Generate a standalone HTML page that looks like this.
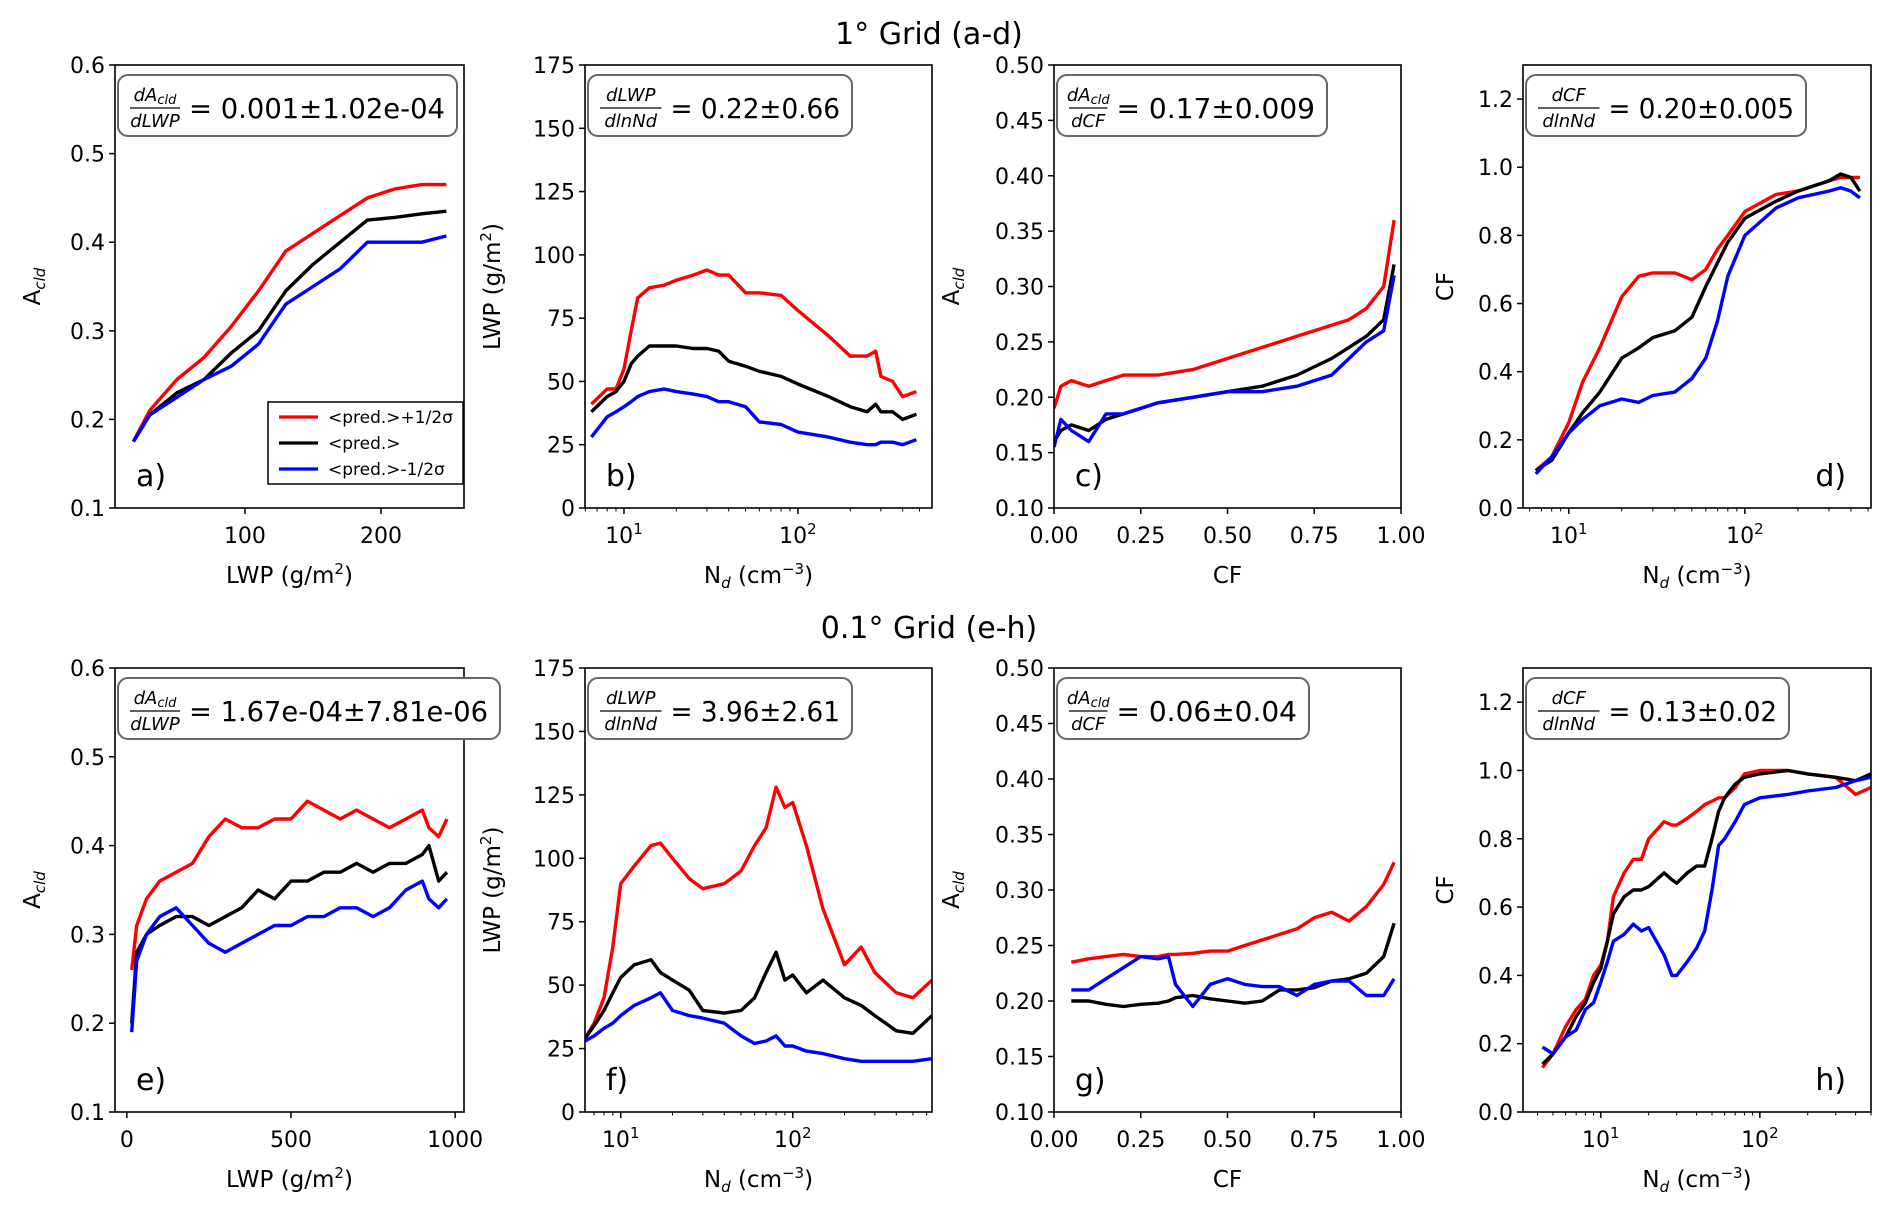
<!DOCTYPE html>
<html><head><meta charset="utf-8"><style>
html,body{margin:0;padding:0;background:#fff}
svg{display:block;font-family:"DejaVu Sans","Liberation Sans",sans-serif}
</style></head><body>
<svg id="fig" width="1892" height="1213" viewBox="0 0 1892 1213" xmlns="http://www.w3.org/2000/svg">
<text x="929" y="44" font-size="30" text-anchor="middle">1° Grid (a-d)</text>
<text x="929" y="638" font-size="30" text-anchor="middle">0.1° Grid (e-h)</text>
</svg>
<script>
// ---- data ----
const aX=[18,30,50,70,90,110,130,150,170,190,210,230,248];
const aRed=[0.175,0.21,0.245,0.27,0.305,0.345,0.39,0.41,0.43,0.45,0.46,0.465,0.465];
const aBlack=[0.175,0.205,0.23,0.245,0.275,0.3,0.345,0.375,0.40,0.425,0.428,0.432,0.435];
const aBlue=[0.175,0.205,0.225,0.245,0.26,0.285,0.33,0.35,0.37,0.40,0.40,0.40,0.407];
const bX=[6.5,8,9,10,11,12,14,17,20,25,30,35,40,50,60,80,100,150,200,250,280,300,350,400,480];
const bRed=[41,47,47,55,70,83,87,88,90,92,94,92,92,85,85,84,78,68,60,60,62,52,50,44,46];
const bBlack=[38,44,46,50,57,60,64,64,64,63,63,62,58,56,54,52,49,44,40,38,41,38,38,35,37];
const bBlue=[28,36,38,40,42,44,46,47,46,45,44,42,42,40,34,33,30,28,26,25,25,26,26,25,27];
const cX=[0,0.02,0.05,0.1,0.15,0.2,0.3,0.4,0.5,0.6,0.7,0.8,0.85,0.9,0.95,0.98];
const cRed=[0.19,0.21,0.215,0.21,0.215,0.22,0.22,0.225,0.235,0.245,0.255,0.265,0.27,0.28,0.30,0.36];
const cBlack=[0.16,0.17,0.175,0.17,0.18,0.185,0.195,0.2,0.205,0.21,0.22,0.235,0.245,0.255,0.27,0.32];
const cBlue=[0.155,0.18,0.17,0.16,0.185,0.185,0.195,0.2,0.205,0.205,0.21,0.22,0.235,0.25,0.26,0.31];
const dX=[6.5,8,10,12,15,20,25,30,40,50,60,70,80,100,150,200,300,350,400,450];
const dRed=[0.11,0.15,0.25,0.37,0.47,0.62,0.68,0.69,0.69,0.67,0.70,0.76,0.80,0.87,0.92,0.93,0.96,0.97,0.97,0.97];
const dBlack=[0.11,0.14,0.22,0.28,0.34,0.44,0.47,0.50,0.52,0.56,0.65,0.72,0.78,0.85,0.90,0.93,0.96,0.98,0.97,0.93];
const dBlue=[0.10,0.15,0.22,0.26,0.30,0.32,0.31,0.33,0.34,0.38,0.44,0.55,0.68,0.80,0.88,0.91,0.93,0.94,0.93,0.91];
const eX=[15,30,60,100,150,200,250,300,350,400,450,500,550,600,650,700,750,800,850,900,920,950,975];
const eRed=[0.26,0.31,0.34,0.36,0.37,0.38,0.41,0.43,0.42,0.42,0.43,0.43,0.45,0.44,0.43,0.44,0.43,0.42,0.43,0.44,0.42,0.41,0.43];
const eBlack=[0.20,0.28,0.30,0.31,0.32,0.32,0.31,0.32,0.33,0.35,0.34,0.36,0.36,0.37,0.37,0.38,0.37,0.38,0.38,0.39,0.40,0.36,0.37];
const eBlue=[0.19,0.27,0.30,0.32,0.33,0.31,0.29,0.28,0.29,0.30,0.31,0.31,0.32,0.32,0.33,0.33,0.32,0.33,0.35,0.36,0.34,0.33,0.34];
const fX=[6.2,7,8,9,10,12,15,17,20,25,30,40,50,60,70,80,90,100,120,150,200,250,300,400,500,645];
const fRed=[29,35,45,65,90,97,105,106,100,92,88,90,95,105,112,128,120,122,105,80,58,65,55,47,45,52];
const fBlack=[29,34,40,47,53,58,60,55,52,48,40,39,40,45,55,63,52,54,47,52,45,42,38,32,31,38];
const fBlue=[28,30,33,35,38,42,45,47,40,38,37,35,30,27,28,30,26,26,24,23,21,20,20,20,20,21];
const gX=[0.05,0.1,0.15,0.2,0.25,0.3,0.33,0.35,0.4,0.45,0.5,0.55,0.6,0.65,0.7,0.75,0.8,0.85,0.9,0.95,0.98];
const gRed=[0.235,0.238,0.24,0.242,0.24,0.24,0.242,0.242,0.243,0.245,0.245,0.25,0.255,0.26,0.265,0.275,0.28,0.272,0.285,0.305,0.325];
const gBlack=[0.2,0.2,0.197,0.195,0.197,0.198,0.2,0.203,0.205,0.202,0.2,0.198,0.2,0.21,0.21,0.212,0.218,0.22,0.225,0.24,0.27];
const gBlue=[0.21,0.21,0.22,0.23,0.24,0.238,0.24,0.215,0.195,0.215,0.22,0.215,0.213,0.213,0.205,0.215,0.218,0.218,0.205,0.205,0.22];
const hX=[4.3,5,6,7,8,9,10,11,12,14,16,18,20,25,28,30,35,40,45,50,55,60,70,80,100,150,200,300,400,500];
const hRed=[0.13,0.17,0.25,0.3,0.33,0.40,0.43,0.50,0.63,0.70,0.74,0.74,0.80,0.85,0.84,0.84,0.86,0.88,0.90,0.91,0.92,0.92,0.95,0.99,1.0,1.0,0.99,0.98,0.93,0.95];
const hBlack=[0.14,0.17,0.22,0.28,0.32,0.38,0.42,0.50,0.58,0.63,0.65,0.65,0.66,0.70,0.68,0.67,0.70,0.72,0.72,0.80,0.88,0.92,0.96,0.98,0.99,1.0,0.99,0.98,0.97,0.99];
const hBlue=[0.19,0.17,0.22,0.24,0.30,0.32,0.38,0.44,0.50,0.52,0.55,0.53,0.54,0.46,0.40,0.40,0.44,0.48,0.53,0.65,0.78,0.80,0.85,0.90,0.92,0.93,0.94,0.95,0.97,0.98];
const aclTicks=[0.1,0.2,0.3,0.4,0.5,0.6];
const lwpTicks=[0,25,50,75,100,125,150,175];
const acl2Ticks=[0.10,0.15,0.20,0.25,0.30,0.35,0.40,0.45,0.50];
const cfTicks=[0.0,0.2,0.4,0.6,0.8,1.0,1.2];
const cfxTicks=[0,0.25,0.5,0.75,1.0];

const NS="http://www.w3.org/2000/svg";
const svg=document.getElementById('fig');
function mk(tag,attrs,parent){const e=document.createElementNS(NS,tag);for(const k in attrs)e.setAttribute(k,attrs[k]);(parent||svg).appendChild(e);return e;}

const colX=[[115,464],[585,932],[1054,1401],[1523,1871]];
const rowY=[[65,508],[668,1112]];

const panels=[
 {id:'a',c:0,r:0,xs:'lin',xr:[4.5,261],yr:[0.1,0.6],xt:[100,200],xtl:['100','200'],yt:aclTicks,ytl:aclTicks.map(v=>v.toFixed(1)),x:aX,s:[aRed,aBlack,aBlue],yl:'acld',xl:'lwp',num:'dA',den:'dLWP',eq:'= 0.001±1.02e-04',bw:339,lab:'a)',labx:0.06},
 {id:'b',c:1,r:0,xs:'log',xr:[5.97,590],yr:[0,175],xt:[10,100],yt:lwpTicks,ytl:lwpTicks.map(String),x:bX,s:[bRed,bBlack,bBlue],yl:'lwp',xl:'nd',num:'dLWP',den:'dlnNd',eq:'= 0.22±0.66',bw:264,lab:'b)',labx:0.06},
 {id:'c',c:2,r:0,xs:'lin',xr:[0,1],yr:[0.1,0.5],xt:cfxTicks,xtl:cfxTicks.map(v=>v.toFixed(2)),yt:acl2Ticks,ytl:acl2Ticks.map(v=>v.toFixed(2)),x:cX,s:[cRed,cBlack,cBlue],yl:'acld',xl:'cf',num:'dA',den:'dCF',eq:'= 0.17±0.009',bw:270,lab:'c)',labx:0.06},
 {id:'d',c:3,r:0,xs:'log',xr:[5.5,520],yr:[0,1.3],xt:[10,100],yt:cfTicks,ytl:cfTicks.map(v=>v.toFixed(1)),x:dX,s:[dRed,dBlack,dBlue],yl:'cf',xl:'nd',num:'dCF',den:'dlnNd',eq:'= 0.20±0.005',bw:280,lab:'d)',labx:0.84},
 {id:'e',c:0,r:1,xs:'lin',xr:[-36,1027],yr:[0.1,0.6],xt:[0,500,1000],xtl:['0','500','1000'],yt:aclTicks,ytl:aclTicks.map(v=>v.toFixed(1)),x:eX,s:[eRed,eBlack,eBlue],yl:'acld',xl:'lwp',num:'dA',den:'dLWP',eq:'= 1.67e-04±7.81e-06',bw:382,lab:'e)',labx:0.06},
 {id:'f',c:1,r:1,xs:'log',xr:[6.2,645],yr:[0,175],xt:[10,100],yt:lwpTicks,ytl:lwpTicks.map(String),x:fX,s:[fRed,fBlack,fBlue],yl:'lwp',xl:'nd',num:'dLWP',den:'dlnNd',eq:'= 3.96±2.61',bw:264,lab:'f)',labx:0.06},
 {id:'g',c:2,r:1,xs:'lin',xr:[0,1],yr:[0.1,0.5],xt:cfxTicks,xtl:cfxTicks.map(v=>v.toFixed(2)),yt:acl2Ticks,ytl:acl2Ticks.map(v=>v.toFixed(2)),x:gX,s:[gRed,gBlack,gBlue],yl:'acld',xl:'cf',num:'dA',den:'dCF',eq:'= 0.06±0.04',bw:252,lab:'g)',labx:0.06},
 {id:'h',c:3,r:1,xs:'log',xr:[3.24,500],yr:[0,1.3],xt:[10,100],yt:cfTicks,ytl:cfTicks.map(v=>v.toFixed(1)),x:hX,s:[hRed,hBlack,hBlue],yl:'cf',xl:'nd',num:'dCF',den:'dlnNd',eq:'= 0.13±0.02',bw:263,lab:'h)',labx:0.84}
];
const colors=['#ff0000','#000000','#0000ff'];
const snames=['plus-half-sigma','pred','minus-half-sigma'];

panels.forEach(p=>{
 const [x0,x1]=colX[p.c],[y0,y1]=rowY[p.r];
 const g=mk('g',{});
 
 
 const sx=p.xs==='log'?(v=>x0+(Math.log10(v)-Math.log10(p.xr[0]))/(Math.log10(p.xr[1])-Math.log10(p.xr[0]))*(x1-x0)):(v=>x0+(v-p.xr[0])/(p.xr[1]-p.xr[0])*(x1-x0));
 const sy=v=>y1-(v-p.yr[0])/(p.yr[1]-p.yr[0])*(y1-y0);
 const clip=mk('clipPath',{id:'clip'+p.id},g);mk('rect',{x:x0,y:y0,width:x1-x0,height:y1-y0},clip);
 p.s.forEach((ser,i)=>{
  const d=p.x.map((xv,j)=>(j?'L':'M')+sx(xv).toFixed(1)+','+sy(ser[j]).toFixed(1)).join('');
  const path=mk('path',{d:d,fill:'none',stroke:colors[i],'stroke-width':3.4,'stroke-linejoin':'round','clip-path':'url(#clip'+p.id+')'},g);
  
  
 });
 const fr=mk('rect',{x:x0,y:y0,width:x1-x0,height:y1-y0,fill:'none',stroke:'#000','stroke-width':1.6},g);
 
 
 p.yt.forEach((v,i)=>{const y=sy(v);mk('line',{x1:x0-6,x2:x0,y1:y,y2:y,stroke:'#000','stroke-width':1.5},g);
  const t=mk('text',{x:x0-10,y:y+8,'font-size':22,'text-anchor':'end'},g);t.textContent=p.ytl[i];
  
  });
 if(p.xs==='log'){
  for(let dec=0;dec<4;dec++){for(let m=1;m<10;m++){const v=m*Math.pow(10,dec);if(v<p.xr[0]||v>p.xr[1])continue;const x=sx(v);mk('line',{x1:x,x2:x,y1:y1,y2:y1+(m===1?6:3.5),stroke:'#000','stroke-width':m===1?1.5:1},g);}}
  p.xt.forEach(v=>{const x=sx(v);const t=mk('text',{x:x,y:y1+35,'font-size':22,'text-anchor':'middle'},g);
   
   
   t.textContent='10';const s=mk('tspan',{dy:-9,'font-size':15},t);s.textContent=String(Math.round(Math.log10(v)));});
 } else {
  p.xt.forEach((v,i)=>{const x=sx(v);mk('line',{x1:x,x2:x,y1:y1,y2:y1+6,stroke:'#000','stroke-width':1.5},g);
   const t=mk('text',{x:x,y:y1+35,'font-size':22,'text-anchor':'middle'},g);t.textContent=p.xtl[i];
   
   });
 }
 const cx=(x0+x1)/2, cy=(y0+y1)/2;
 const xl=mk('text',{x:cx,y:y1+75,'font-size':23,'text-anchor':'middle'},g);
 
 
 if(p.xl==='lwp'){xl.innerHTML='LWP (g/m<tspan dy="-9" font-size="15">2</tspan><tspan dy="9">)</tspan>';}
 else if(p.xl==='cf'){xl.textContent='CF';}
 else {xl.innerHTML='N<tspan dy="5" font-size="15" font-style="italic">d</tspan><tspan dy="-5"> (cm</tspan><tspan dy="-9" font-size="15">−3</tspan><tspan dy="9">)</tspan>';}
 const yx=p.yl==='acld'?x0-(p.c===0?75:95):x0-(p.yl==='lwp'?85:70);
 const yl=mk('text',{x:yx,y:cy,'font-size':23,'text-anchor':'middle',transform:'rotate(-90 '+yx+' '+cy+')'},g);
 
 
 if(p.yl==='acld') yl.innerHTML='A<tspan dy="5" font-size="15" font-style="italic">cld</tspan>';
 else if(p.yl==='lwp') yl.innerHTML='LWP (g/m<tspan dy="-9" font-size="15">2</tspan><tspan dy="9">)</tspan>';
 else yl.textContent='CF';
 // text box
 const bx=x0+3, by=y0+10, bh=61;
 const box=mk('g',{},g);
 
 
 mk('rect',{x:bx,y:by,width:p.bw,height:bh,rx:10,fill:'#fff',stroke:'#666','stroke-width':2},box);
 const fx=bx+12, fw=p.den.length*11.5+4;
 const nt=mk('text',{x:fx+fw/2,y:by+26,'font-size':18,'font-style':'italic','text-anchor':'middle'},box);
 if(p.num==='dA') nt.innerHTML='dA<tspan dy="3" font-size="13">cld</tspan>'; else nt.textContent=p.num;
 mk('line',{x1:fx,x2:fx+fw,y1:by+33,y2:by+33,stroke:'#000','stroke-width':1.3},box);
 const dt=mk('text',{x:fx+fw/2,y:by+52,'font-size':18,'font-style':'italic','text-anchor':'middle'},box);dt.textContent=p.den;
 const et=mk('text',{x:fx+fw+9,y:by+43,'font-size':28,textLength:p.bw-(fx+fw+9-bx)-12,lengthAdjust:'spacingAndGlyphs'},box);et.textContent=p.eq;
 const pl=mk('text',{x:x0+p.labx*(x1-x0),y:y1-22,'font-size':30},g);pl.textContent=p.lab;
 
 
});
const lg=mk('g',{});


mk('rect',{x:268,y:402,width:195,height:82,fill:'#fff',stroke:'#000','stroke-width':1.5},lg);
const ltxt=['<pred.>+1/2σ','<pred.>','<pred.>-1/2σ'];
ltxt.forEach((t,i)=>{const y=417+i*26;
 const ln=mk('line',{x1:279,x2:318,y1:y,y2:y,stroke:colors[i],'stroke-width':3.2},lg);
 
 
 const tx=mk('text',{x:328,y:y+6,'font-size':17},lg);tx.textContent=t;
 
 });
</script>
</body></html>
